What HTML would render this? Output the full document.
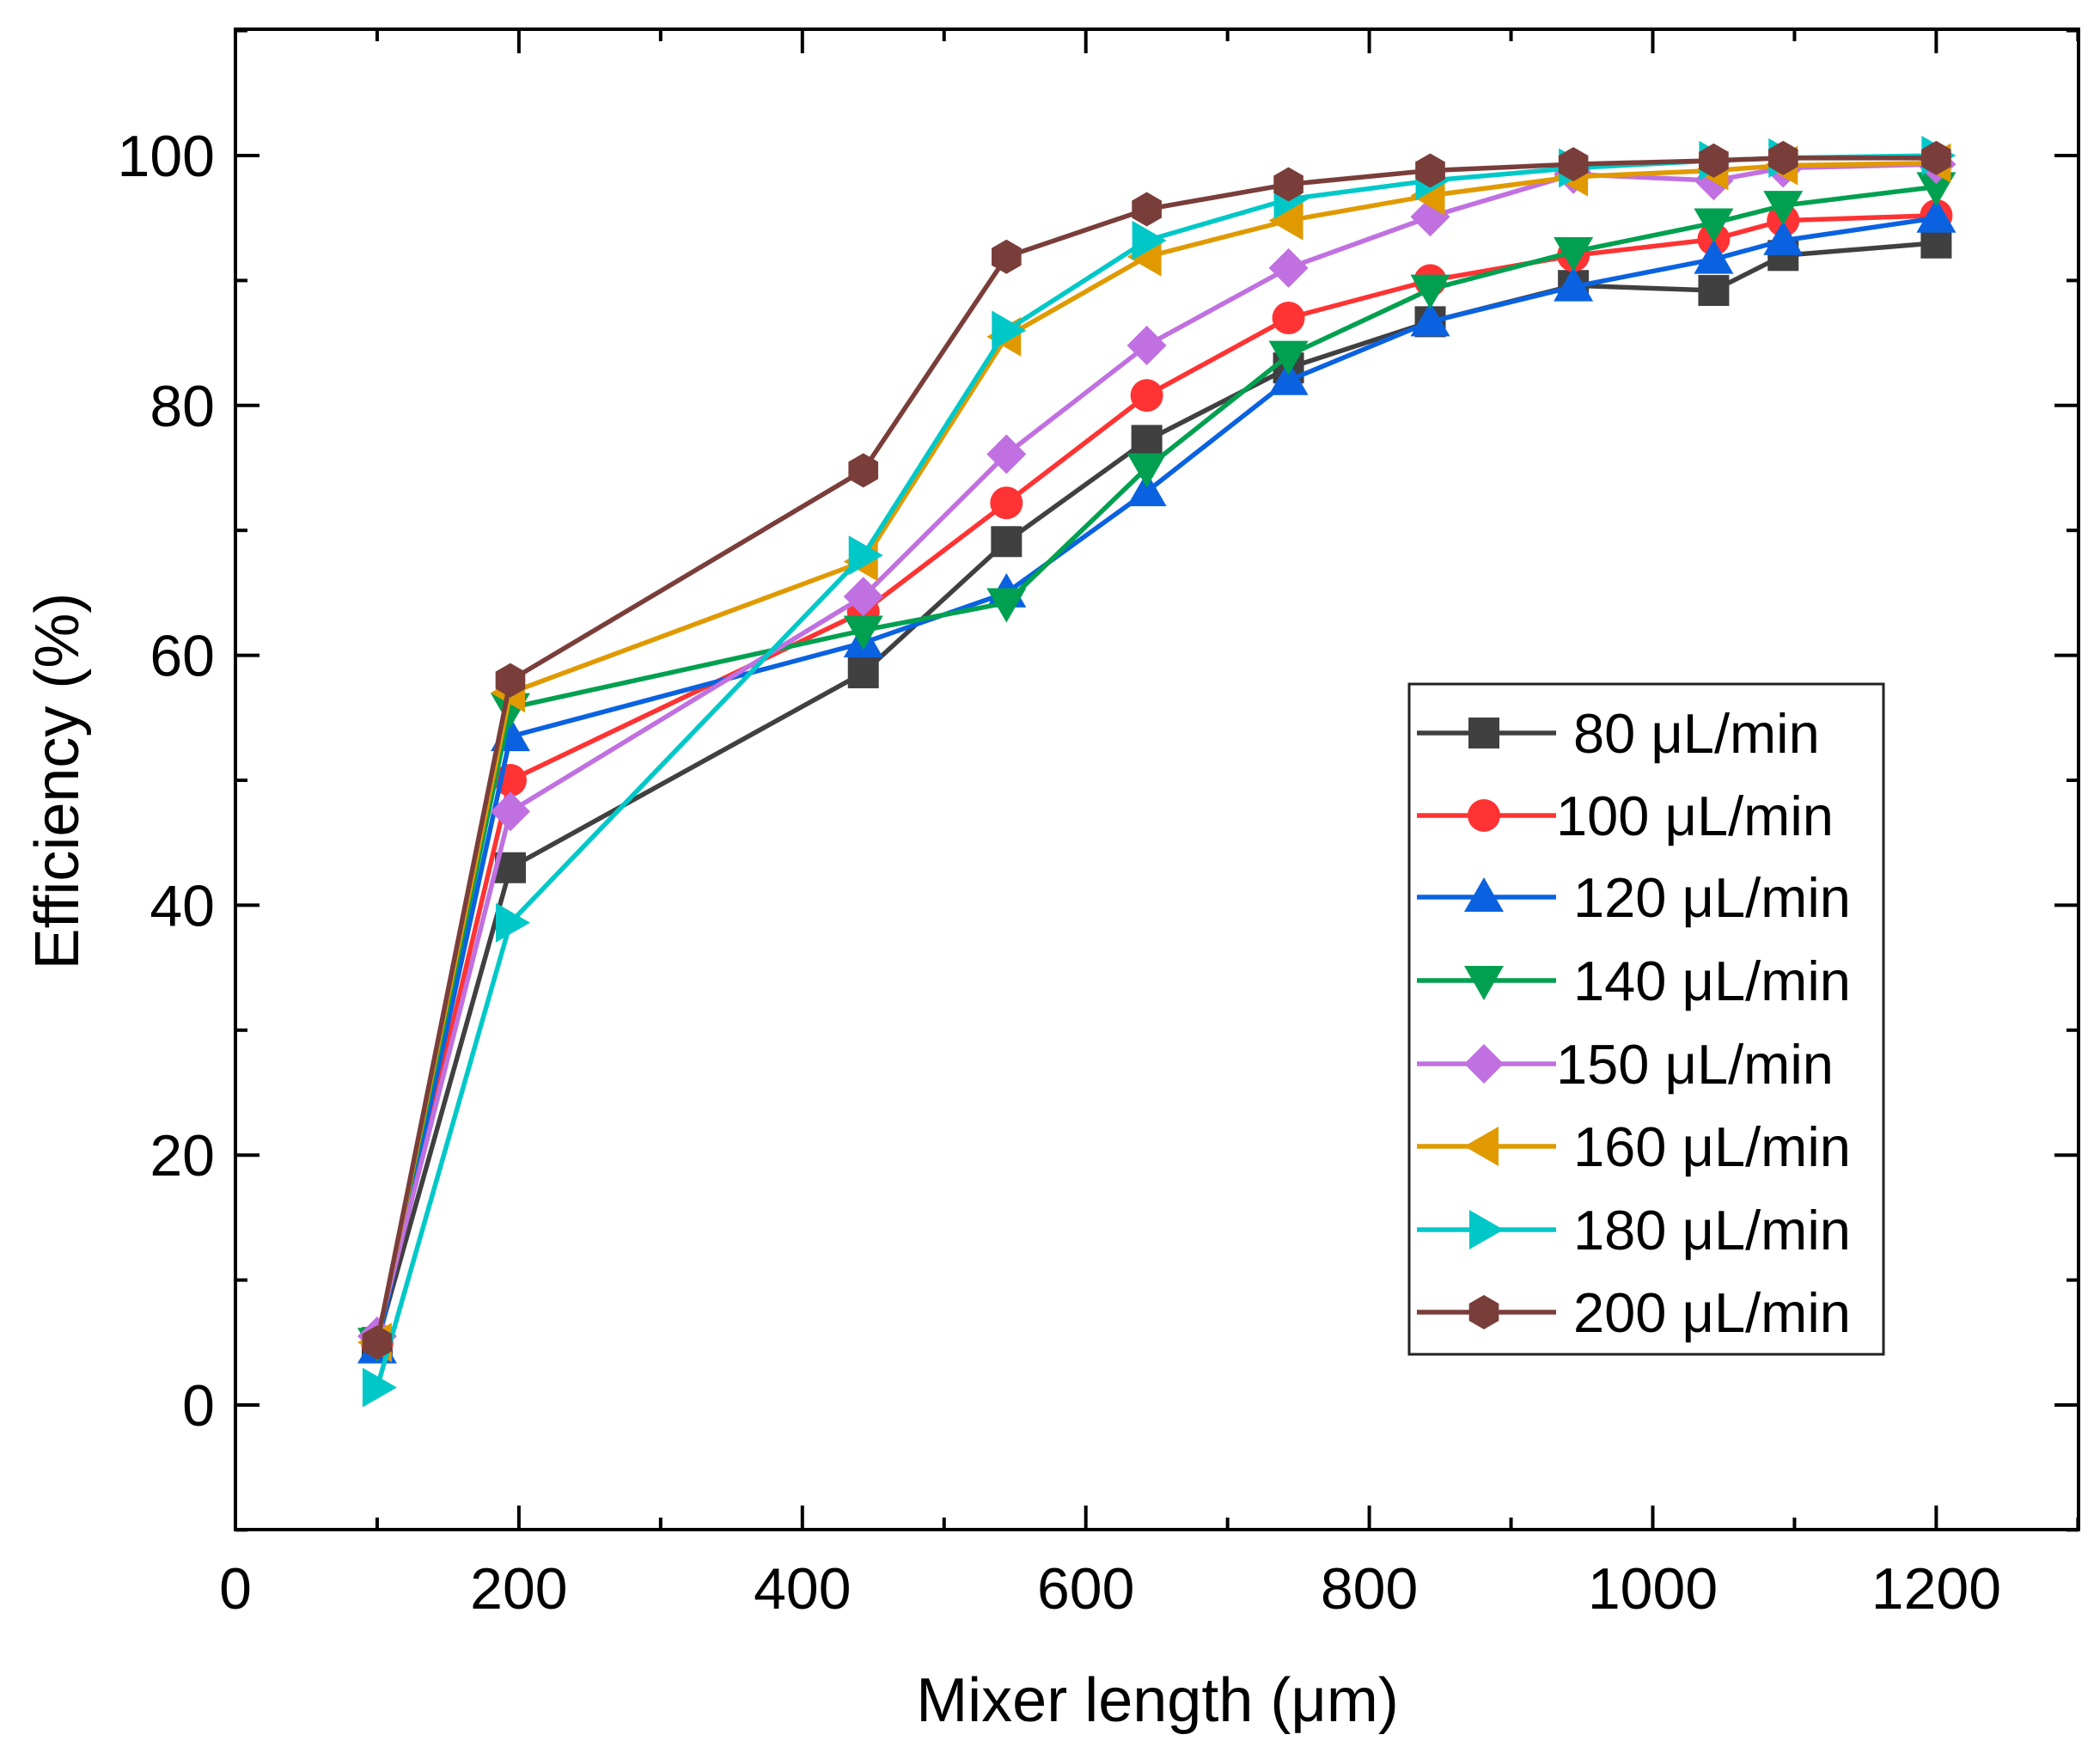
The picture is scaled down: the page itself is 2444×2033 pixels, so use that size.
<!DOCTYPE html>
<html><head><meta charset="utf-8"><style>
html,body{margin:0;padding:0;background:#fff;}
svg{display:block;}
text{font-family:"Liberation Sans",Arial,sans-serif;fill:#000;}
</style></head><body>
<svg id="c" width="2444" height="2033" viewBox="0 0 2444 2033" xmlns="http://www.w3.org/2000/svg">
<rect width="2444" height="2033" fill="#fff"/>
<g id="g"></g>
<text x="66" y="909" font-size="72" text-anchor="middle" transform="rotate(-90 66 909)" dy="25">Efficiency (%)</text>
<text x="1347" y="2003" font-size="72" text-anchor="middle">Mixer length (μm)</text>
</svg>
<script>
var NS="http://www.w3.org/2000/svg",g=document.getElementById("g");
function X(v){return 274+v*1.6495;}function Y(v){return 1635-v*14.54;}
function el(t,a,txt){var e=document.createElementNS(NS,t);for(var k in a)e.setAttribute(k,a[k]);if(txt!==undefined)e.textContent=txt;g.appendChild(e);return e;}
var L=274,R=2419,T=34,B=1780;
for(var v=0;v<=1300;v+=100){var x=X(v),len=(v%200==0)?28:14;
 el("line",{x1:x,y1:B,x2:x,y2:B-len,stroke:"#000","stroke-width":4});
 el("line",{x1:x,y1:T,x2:x,y2:T+len,stroke:"#000","stroke-width":4});
 if(v%200==0&&v<=1200)el("text",{x:x,y:1872,"font-size":68,"text-anchor":"middle"},String(v));}
for(var v=-10;v<=110;v+=10){var y=Y(v),len=(v%20==0)?28:14;
 el("line",{x1:L,y1:y,x2:L+len,y2:y,stroke:"#000","stroke-width":4});
 el("line",{x1:R,y1:y,x2:R-len,y2:y,stroke:"#000","stroke-width":4});
 if(v%20==0&&v>=0&&v<=100)el("text",{x:250,y:y+24,"font-size":68,"text-anchor":"end"},String(v));}
el("rect",{x:L,y:T,width:R-L,height:B-T,fill:"none",stroke:"#000","stroke-width":4});
var xs=[100,194,443,544,643,743,843,944,1043,1092,1200];
var S=[
["80","#404040","sq",[5,43,58.6,69.1,77.2,83,86.7,89.6,89.2,92,93]],
["100","#ff3333","ci",[5,50,63.5,72.2,80.8,87,90,92,93.3,94.8,95.2]],
["120","#0a62e0","tu",[4.5,53.5,61,65,73.1,82,86.7,89.5,91.7,93.2,95]],
["140","#00a050","td",[5,55.8,62,64.2,75,84,89.3,92.3,94.6,96,97.5]],
["150","#c070e0","di",[5.5,47.5,64.7,76.1,84.8,91,95.1,98.5,98,99,99.3]],
["160","#e09a00","tl",[5,57,67.5,85.5,91.9,94.8,96.8,98.3,98.8,99.2,99.4]],
["180","#00c8c8","tr",[1.4,38.6,68,86,93.2,96.5,98,99,99.6,99.8,100]],
["200","#7a3e3a","hx",[5,58,74.8,91.9,95.7,97.7,98.8,99.3,99.6,99.8,99.8]]];
function mk(type,x,y,c){var r=20,p;
 if(type=="sq")return el("rect",{x:x-18,y:y-18,width:36,height:36,fill:c});
 if(type=="ci")return el("circle",{cx:x,cy:y,r:19,fill:c});
 if(type=="tu")p=[[x,y-23],[x+23,y+17],[x-23,y+17]];
 if(type=="td")p=[[x,y+23],[x+23,y-17],[x-23,y-17]];
 if(type=="di")p=[[x,y-23],[x+23,y],[x,y+23],[x-23,y]];
 if(type=="tl")p=[[x-23,y],[x+17,y-23],[x+17,y+23]];
 if(type=="tr")p=[[x+23,y],[x-17,y-23],[x-17,y+23]];
 if(type=="hx"){p=[];for(var i=0;i<6;i++){var a=Math.PI/6+i*Math.PI/3;p.push([x+r*Math.cos(a),y+r*Math.sin(a)]);}}
 return el("polygon",{points:p.map(function(q){return q.join(",")}).join(" "),fill:c});}
S.forEach(function(s){
 el("polyline",{points:xs.map(function(x,i){return X(x)+","+Y(s[3][i])}).join(" "),fill:"none",stroke:s[1],"stroke-width":5.5});
 xs.forEach(function(x,i){mk(s[2],X(x),Y(s[3][i]),s[1]);});});
el("rect",{x:1640,y:796,width:552,height:780,fill:"#fff",stroke:"#222","stroke-width":3});
var ly=[853,949,1044,1141,1238,1334,1431,1527];
S.forEach(function(s,i){var y=ly[i];
 el("line",{x1:1649,y1:y,x2:1811,y2:y,stroke:s[1],"stroke-width":5.5});
 mk(s[2],1727,y,s[1]);
 var tx=(s[0]=="100"||s[0]=="150")?1811:1831;
 el("text",{x:tx,y:y+23,"font-size":65},s[0]+" μL/min");});
</script>
</body></html>
